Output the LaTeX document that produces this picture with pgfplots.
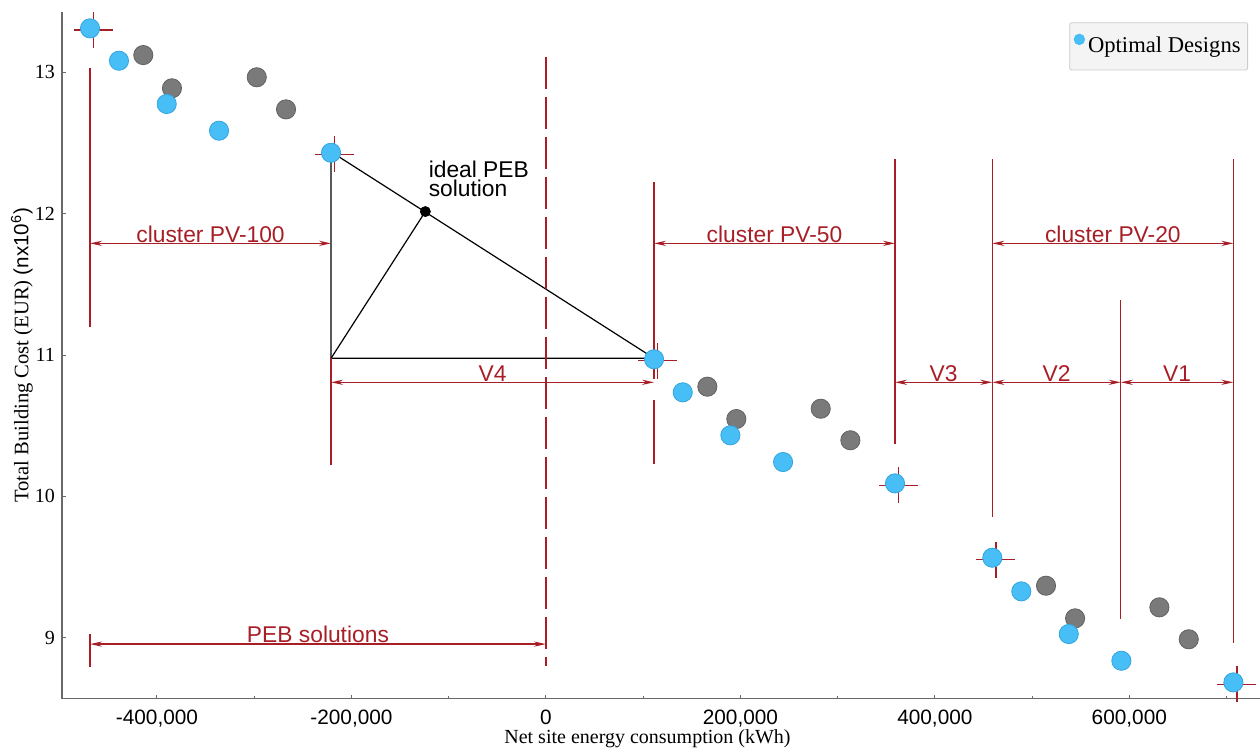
\documentclass[border=0pt]{standalone}
\usepackage{pgfplots}
\pgfplotsset{compat=1.18}
\usepackage{fontspec}
\setmainfont{Liberation Serif}
\setsansfont{Liberation Sans}
\usetikzlibrary{arrows.meta}
\definecolor{bluef}{RGB}{72,190,246}
\definecolor{bluee}{RGB}{52,165,222}
\definecolor{grayf}{RGB}{122,122,122}
\definecolor{graye}{RGB}{98,98,98}
\definecolor{dred}{RGB}{168,30,38}
\definecolor{axgray}{RGB}{105,105,105}
\newcommand{\annfont}{\sffamily\fontsize{11.4}{13}\selectfont}
\tikzset{
  ext/.style={dred, line width=0.65pt},
  dim/.style={dred, line width=0.65pt, {Stealth[length=6pt,width=2.6pt]}-{Stealth[length=6pt,width=2.6pt]}},
  lab/.style={dred, anchor=base, font=\annfont, inner sep=0pt, yshift=0.6pt},
}
\begin{document}
\begin{tikzpicture}
\begin{axis}[
  at={(0,0)}, anchor=south west,
  scale only axis, width=599pt, height=343.4pt,
  xmin=-497700, xmax=734400, ymin=8.570, ymax=13.429,
  axis x line*=bottom, axis y line*=left,
  axis line style={-, axgray, line width=0.7pt},
  every inner x axis line/.append style={-},
  every inner y axis line/.append style={-},
  every outer x axis line/.append style={-},
  every outer y axis line/.append style={-},
  clip=false,
  scaled x ticks=false, scaled y ticks=false,
  xtick={-400000,-200000,0,200000,400000,600000},
  xticklabels={{-400,000},{-200,000},{0},{200,000},{400,000},{600,000}},
  minor xtick={-300000,-100000,100000,300000,500000,700000},
  ytick={9,10,11,12,13}, yticklabels={9,10,11,12,13},
  tick align=inside,
  major tick length=2pt, minor tick length=1.3pt,
  tick style={axgray, line width=0.5pt},
  xticklabel style={font=\sffamily\fontsize{10.4}{12}\selectfont, yshift=-2pt},
  yticklabel style={font=\fontsize{10}{12}\selectfont},
  xlabel={Net site energy consumption (kWh)},
  ylabel={Total Building Cost (EUR) {\sffamily(nx10\textsuperscript{6})}},
  xlabel style={font=\fontsize{10}{12}\selectfont, at={(axis description cs:0.4887,0)}, anchor=center, yshift=-20pt},
  ylabel style={font=\fontsize{10.3}{12}\selectfont, at={(axis description cs:-0.0334,0.5)}, anchor=center},
  legend style={at={(1,1)}, anchor=north east, xshift=-6pt, yshift=-5.3pt,
    draw=gray!40, fill=gray!9, font=\fontsize{11.3}{13}\selectfont,
    inner xsep=2pt, inner ysep=5.5pt, nodes={inner sep=1.5pt}, rounded corners=1pt},
  legend image code/.code={\fill[bluef] (1.5pt,3.6pt) circle (2.65pt);},
]
% non-optimal designs
\addplot[only marks, mark=*, mark size=4.8pt, mark options={fill=grayf, draw=graye, line width=0.4pt}, forget plot] table {
x y
-414100 13.122
-384600 12.887
-297400 12.965
-267300 12.738
166000 10.776
195800 10.547
282600 10.620
313100 10.397
514300 9.368
544200 9.137
630900 9.215
661100 8.989
};
% optimal designs
\addplot[only marks, mark=*, mark size=4.8pt, mark options={fill=bluef, draw=bluee, line width=0.4pt}] table {
x y
-468900 13.311
-439100 13.082
-390000 12.776
-336200 12.587
-221000 12.431
111200 10.970
140700 10.736
189700 10.432
243900 10.243
359000 10.092
459100 9.566
488900 9.328
537700 9.026
591800 8.837
707000 8.684
};
\addlegendentry{Optimal Designs}
% crosses
\addplot[draw=none, mark=none, forget plot, error bars/.cd, x dir=both, x fixed=20050, y dir=both, y fixed=0.127, error mark=none, error bar style={dred, line width=0.7pt}] table {
x y
-465200 13.300
-217300 12.420
114900 10.960
362700 10.078
462800 9.552
710700 8.670
};
% triangle
\draw[black, line width=0.6pt] (-221000,12.438) -- (-221000,10.977) -- (111200,10.977) -- cycle;
\draw[black, line width=0.6pt] (-221000,10.977) -- (-124000,12.015);
\addplot[only marks, mark=*, mark size=2.5pt, mark options={fill=black, draw=black}, forget plot] coordinates {(-124000,12.015)};
\node[anchor=base west, font=\annfont, inner sep=0pt] at (-120900,12.255) {ideal PEB};
\node[anchor=base west, font=\annfont, inner sep=0pt] at (-120900,12.125) {solution};
% zero line
\draw[dred, line width=1.1pt, dash pattern=on 16pt off 4pt] (0,13.110) -- (0,8.800);
% extension lines
\draw[ext] (-468900,13.030) -- (-468900,11.198);
\draw[ext] (-468900,9.029) -- (-468900,8.794);
\draw[ext] (-221000,10.977) -- (-221000,10.222);
\draw[ext] (111200,12.226) -- (111200,10.828);
\draw[ext] (111200,10.682) -- (111200,10.227);
\draw[ext] (359000,12.385) -- (359000,10.368);
\draw[ext] (459100,12.385) -- (459100,9.852);
\draw[ext] (591200,11.389) -- (591200,9.130);
\draw[ext] (707000,12.385) -- (707000,8.960);
% dimension arrows
\draw[dim] (-468900,8.955) -- (0,8.955);
\draw[dim] (-468900,11.79) -- (-221000,11.79);
\draw[dim] (111200,11.79) -- (359000,11.79);
\draw[dim] (459100,11.79) -- (707000,11.79);
\draw[dim] (-221000,10.807) -- (111200,10.807);
\draw[dim] (359000,10.807) -- (459100,10.807);
\draw[dim] (459100,10.807) -- (591200,10.807);
\draw[dim] (591200,10.807) -- (707000,10.807);
% labels
\node[lab] at (-234450,8.955) {PEB solutions};
\node[lab] at (-344950,11.79) {cluster PV-100};
\node[lab] at (235100,11.79) {cluster PV-50};
\node[lab] at (583050,11.79) {cluster PV-20};
\node[lab] at (-54900,10.807) {V4};
\node[lab] at (409050,10.807) {V3};
\node[lab] at (525150,10.807) {V2};
\node[lab] at (649100,10.807) {V1};
\end{axis}
\pgfresetboundingbox
\path ([shift={(-31pt,-27.75pt)}]current axis.south west) rectangle ([shift={(0pt,5.85pt)}]current axis.north east);
\end{tikzpicture}
\end{document}
